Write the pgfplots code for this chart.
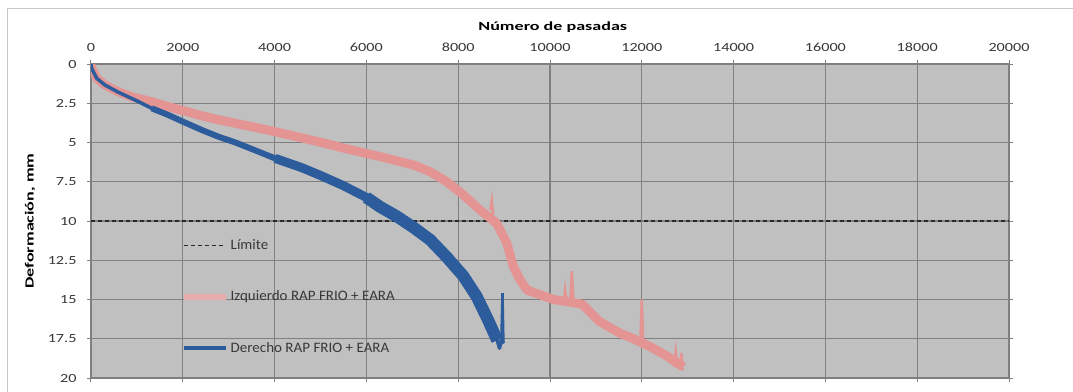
\documentclass[border=0pt]{standalone}
\usepackage{fontspec}
\setmainfont{Carlito}
\newfontfamily\tickfont{Carlito}[FakeStretch=1.3]
\newfontfamily\titlefont{Carlito}[FakeStretch=1.45]
\newfontfamily\legfont{Carlito}[FakeStretch=1.04]
\usepackage{pgfplots}
\pgfplotsset{compat=1.18}
\definecolor{plotbg}{RGB}{192,192,192}
\definecolor{gridc}{RGB}{128,128,128}
\definecolor{pinkc}{RGB}{228,148,146}
\definecolor{pinkl}{RGB}{232,172,172}
\definecolor{bluec}{RGB}{44,92,156}
\definecolor{framec}{RGB}{200,200,200}
\definecolor{txt}{RGB}{56,56,56}

\pgfplotstableread{
x y
0 0
14 0.27
124 0.91
305 1.34
595 1.78
900 2.1
1322 2.4
1685 2.72
2048 3.0
2411 3.3
2774 3.55
3500 3.99
4010 4.31
4954 4.95
5680 5.48
6297 5.9
7023 6.43
7387 6.86
7750 7.5
8113 8.34
8476 9.3
8840 10.15
9057 11.4
9202 12.9
9348 13.75
9500 14.4
10074 15.0
10300 15.1
10700 15.3
11077 16.4
11527 17.15
11817 17.5
12181 18.0
12545 18.6
12907 19.3
}\izq

\pgfplotstableread{
x y
0 0
14 0.27
124 0.91
305 1.34
595 1.8
959 2.29
1322 2.82
1685 3.25
2000 3.67
2411 4.2
2775 4.63
3138 4.99
3500 5.41
4010 6.01
4590 6.6
5000 7.1
5500 7.75
6000 8.5
6300 9.1
6660 9.7
7020 10.4
7390 11.2
7750 12.3
8110 13.5
8400 14.8
8650 16.3
8850 17.6
8900 18.1
8940 17.6
8990 17.8
}\der

\begin{document}
\begin{tikzpicture}[x=1bp,y=1bp]
\useasboundingbox (-91,-13) rectangle (982,378);
\draw[framec, line width=1.2bp] (-83.5,-30) -- (-83.5,369.5) -- (1000,369.5);
\begin{axis}[
  at={(0,0)}, anchor=south west,
  scale only axis, width=918bp, height=314bp,
  xmin=0, xmax=20000, ymin=0, ymax=20, y dir=reverse,
  axis background/.style={fill=plotbg},
  xtick={0,2000,...,20000},
  ytick={0,2.5,5,7.5,10,12.5,15,17.5,20},
  yticklabels={0,2.5,5,7.5,10,12.5,15,17.5,20},
  xticklabel pos=upper,
  scaled x ticks=false,
  grid=major,
  major grid style={gridc, line width=1.3bp},
  axis line style={gridc, line width=1.3bp},
  tick style={gridc, line width=1bp},
  major tick length=4bp, tick align=outside,
  /pgf/number format/assume math mode=true,
  xticklabel style={/pgf/number format/1000 sep={}, font=\tickfont\fontsize{12.5}{12.5}\selectfont, text=txt, yshift=5bp},
  yticklabel style={font=\tickfont\fontsize{12.5}{12.5}\selectfont, text=txt, xshift=-7bp},
  xlabel={\bfseries Número de pasadas},
  xlabel style={font=\titlefont\fontsize{12.5}{12.5}\selectfont, text=black, at={(axis description cs:0.503,1)}, anchor=center, yshift=37bp},
  ylabel={\bfseries Deformación, mm},
  ylabel style={font=\titlefont\fontsize{12.5}{12.5}\selectfont, text=black, at={(axis description cs:-0.0664,0.5)}, anchor=center},
  legend cell align=left,
  legend style={draw=none, fill=none, inner sep=0pt, row sep=36bp,
    at={(axis cs:1950,14.82)}, anchor=west,
    nodes={inner sep=2bp, text=txt, font=\legfont\fontsize{14.5}{14.5}\selectfont}},
  legend image code/.code={\draw[#1] (0bp,0bp) -- (42bp,0bp);},
]
\addplot[color={rgb,255:red,40;green,40;blue,40}, line width=1.3bp, dash pattern=on 4bp off 3bp] coordinates {(0,10) (20000,10)};
\addlegendentry{Límite}
\addplot[pinkc, line width=9bp, line join=round, legend image post style={pinkl, line width=6bp}] table[x=x,y=y] {\izq};
\addlegendentry{Izquierdo RAP FRIO + EARA}
% thin spikes of the left-wheel series
\addplot[pinkc, line width=2.5bp, forget plot] coordinates {(8700,9.3) (8731,8.7) (8760,9.6)};
\addplot[pinkc, line width=2.5bp, forget plot] coordinates {(10300,15.2) (10330,14.4) (10360,15.2)};
\addplot[pinkc, line width=2.5bp, forget plot] coordinates {(10440,15.2) (10474,13.2) (10510,15.0)};
\addplot[pinkc, line width=2.5bp, forget plot] coordinates {(11970,17.6) (12000,15.0) (12030,17.8)};
\addplot[pinkc, line width=2.5bp, forget plot] coordinates {(12700,19.3) (12740,18.3) (12780,19.3)};
\addplot[pinkc, line width=2.5bp, forget plot] coordinates {(12830,19.5) (12860,18.4) (12890,19.5)};
% right-wheel series, band widening along the test
\addplot[bluec, line width=3.5bp, line join=round, forget plot] table[x=x,y=y] {\der};
\addplot[bluec, line width=6bp, line join=round, forget plot, restrict x to domain=1300:4100] table[x=x,y=y] {\der};
\addplot[bluec, line width=9bp, line join=round, forget plot, restrict x to domain=4000:6400] table[x=x,y=y] {\der};
\addplot[bluec, line width=12bp, line join=round, legend image post style={line width=4bp}, restrict x to domain=6000:8880] table[x=x,y=y] {\der};
\addlegendentry{Derecho RAP FRIO + EARA}
\addplot[bluec, line width=2.5bp, forget plot] coordinates {(8940,17.6) (8965,14.6) (8985,17.7)};
\end{axis}
\end{tikzpicture}
\end{document}
